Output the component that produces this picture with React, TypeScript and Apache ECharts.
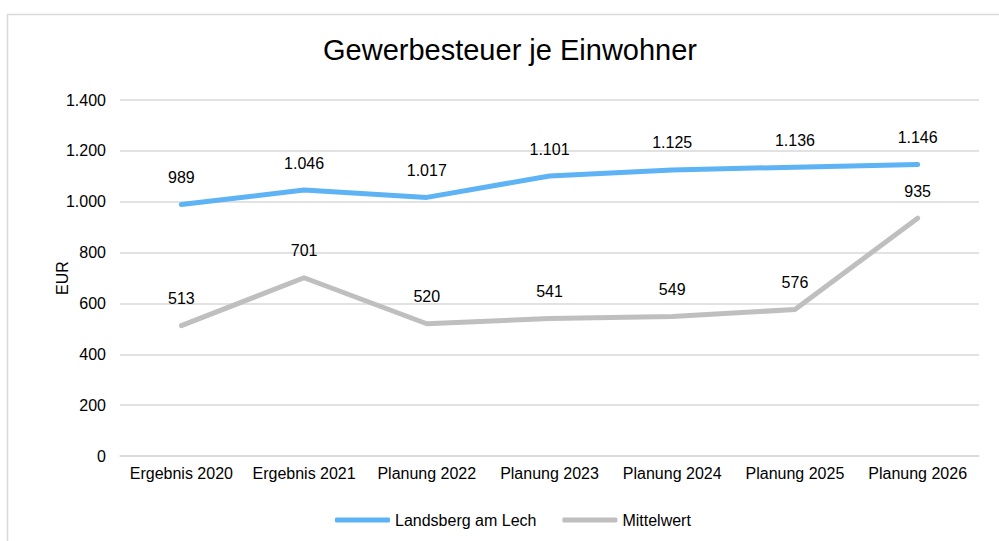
import React, { useEffect, useRef } from "react";
import * as echarts from "echarts";

const categories = [
  "Ergebnis 2020",
  "Ergebnis 2021",
  "Planung 2022",
  "Planung 2023",
  "Planung 2024",
  "Planung 2025",
  "Planung 2026",
];
const landsberg = [989, 1046, 1017, 1101, 1125, 1136, 1146];
const mittelwert = [513, 701, 520, 541, 549, 576, 935];
const yAxisName = "EUR";

const fmt = (v: number) => String(Math.round(v)).replace(/\B(?=(\d{3})+(?!\d))/g, ".");

export default function App() {
  const ref = useRef<HTMLDivElement>(null);
  useEffect(() => {
    if (!ref.current) return;
    const chart = echarts.init(ref.current, null, { renderer: "svg" });
    const font = "'Liberation Sans', Arial, sans-serif";
    const labelCfg = {
      show: true,
      position: "top" as const,
      distance: 19,
      fontSize: 16,
      color: "#000",
      fontFamily: font,
      formatter: (p: any) => fmt(p.value),
    };
    chart.setOption({
      animation: false,
      textStyle: { fontFamily: font },
      graphic: [
        {
          type: "rect",
          shape: { x: 7.5, y: 14.5, width: 1200, height: 800 },
          style: { fill: "none", stroke: "#d9d9d9", lineWidth: 1.5 },
          silent: true,
        },
        {
          type: "text",
          x: 62,
          y: 278,
          rotation: Math.PI / 2,
          style: {
            text: yAxisName,
            fontSize: 16,
            fill: "#000",
            fontFamily: font,
            align: "center",
            verticalAlign: "middle",
          },
          silent: true,
        },
      ],
      title: {
        text: "Gewerbesteuer je Einwohner",
        left: 505,
        textAlign: "center",
        top: 30,
        textStyle: { fontSize: 29, fontWeight: "normal", color: "#000", fontFamily: font },
      },
      legend: {
        top: 507,
        left: 330,
        itemWidth: 55,
        itemHeight: 5,
        itemGap: 26,
        icon: "roundRect",
        textStyle: { fontSize: 16, color: "#000", fontFamily: font },
        data: ["Landsberg am Lech", "Mittelwert"],
      },
      grid: { left: 120, right: 20, top: 100, bottom: 85, containLabel: false },
      xAxis: {
        type: "category",
        data: categories,
        boundaryGap: true,
        axisLine: { show: true, lineStyle: { color: "#d9d9d9", width: 1.5 } },
        axisTick: { show: false },
        axisLabel: { fontSize: 16, color: "#000", margin: 9, interval: 0, fontFamily: font },
      },
      yAxis: {
        type: "value",
        min: 0,
        max: 1400,
        interval: 200,
        axisLine: { show: false },
        axisTick: { show: false },
        axisLabel: { fontSize: 16, color: "#000", margin: 14, formatter: (v: number) => fmt(v), fontFamily: font },
        splitLine: { lineStyle: { color: "#d9d9d9", width: 1.5 } },
      },
      series: [
        {
          name: "Landsberg am Lech",
          type: "line",
          data: landsberg,
          symbol: "circle",
          symbolSize: 0,
          showSymbol: true,
          lineStyle: { color: "#5eb3f4", width: 5, cap: "round" },
          itemStyle: { color: "#5eb3f4" },
          label: labelCfg,
        },
        {
          name: "Mittelwert",
          type: "line",
          data: mittelwert,
          symbol: "circle",
          symbolSize: 0,
          showSymbol: true,
          lineStyle: { color: "#bfbfbf", width: 5, cap: "round" },
          itemStyle: { color: "#bfbfbf" },
          label: labelCfg,
        },
      ],
    });
    return () => chart.dispose();
  }, []);
  return (
    <div
      ref={ref}
      style={{ position: "fixed", left: 0, top: 0, width: 999, height: 541, background: "#fff" }}
    />
  );
}
